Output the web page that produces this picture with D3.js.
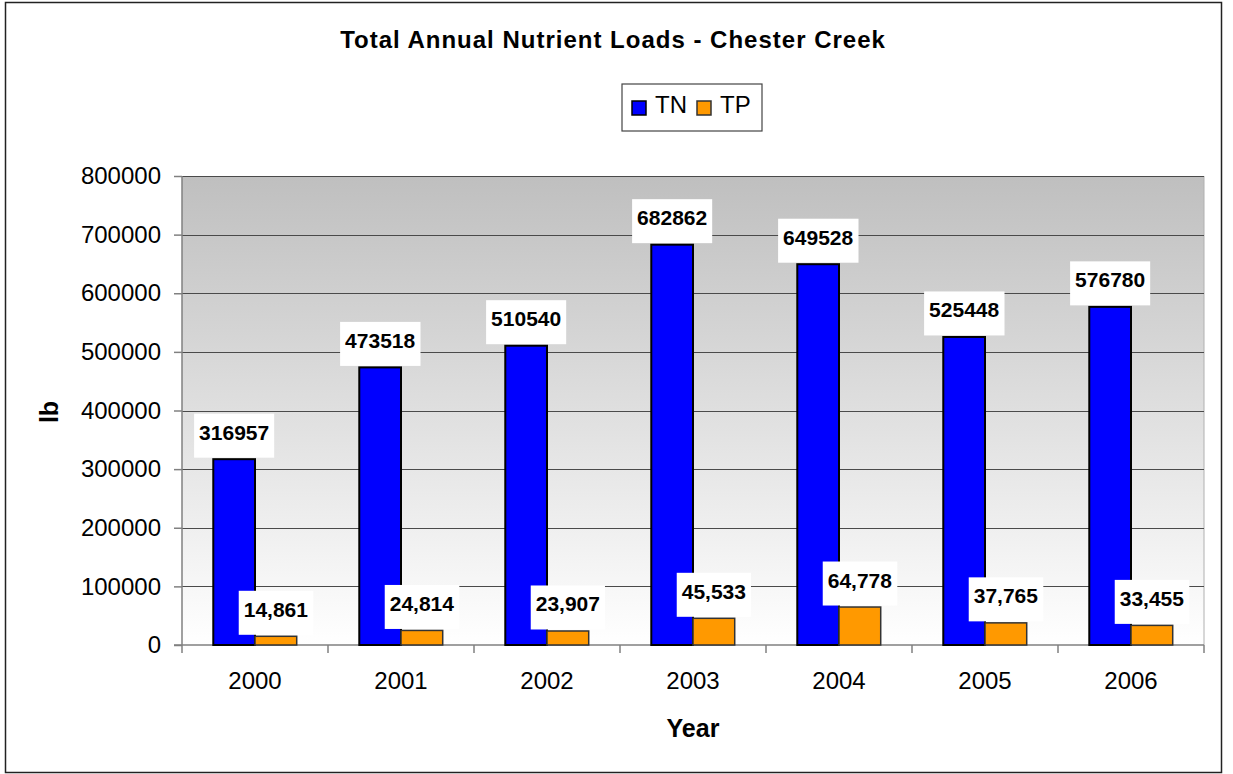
<!DOCTYPE html>
<html>
<head>
<meta charset="utf-8">
<script src="https://cdnjs.cloudflare.com/ajax/libs/d3/7.8.5/d3.min.js"></script>
<style>
  html, body { margin: 0; padding: 0; background: #ffffff; }
  svg { display: block; font-family: "Liberation Sans", Arial, sans-serif; }
</style>
</head>
<body>
<svg id="chart" width="1233" height="774"></svg>
<script>
const years = ["2000", "2001", "2002", "2003", "2004", "2005", "2006"];
const seriesNames = ["TN", "TP"];
const tnValues = [316957, 473518, 510540, 682862, 649528, 525448, 576780];
const tpValues = [14861, 24814, 23907, 45533, 64778, 37765, 33455];
const tnLabels = ["316957", "473518", "510540", "682862", "649528", "525448", "576780"];
const tpLabels = ["14,861", "24,814", "23,907", "45,533", "64,778", "37,765", "33,455"];
const yTicks = [0, 100000, 200000, 300000, 400000, 500000, 600000, 700000, 800000];
const seriesColors = ["#0000ff", "#ff9900"];

const svg = d3.select("#chart");
const W = 1233, H = 774;
const plot = { left: 182, right: 1204, top: 176, bottom: 645 };

// outer chart border
svg.append("rect")
  .attr("x", 5.5).attr("y", 2.5)
  .attr("width", 1216).attr("height", 770)
  .attr("fill", "#ffffff")
  .attr("stroke", "#222").attr("stroke-width", 1.5);

const x0 = d3.scaleBand().domain(years).range([plot.left, plot.right]).paddingInner(0).paddingOuter(0);
const innerPad = (x0.bandwidth() - 2 * (x0.bandwidth() / 3.5)) / 2;
const x1 = d3.scaleBand().domain(seriesNames)
  .range([innerPad, x0.bandwidth() - innerPad]).padding(0);
const y = d3.scaleLinear().domain([0, 800000]).range([plot.bottom, plot.top]);

// gradient plot background
const defs = svg.append("defs");
const grad = defs.append("linearGradient").attr("id", "bg").attr("x1", 0).attr("y1", 0).attr("x2", 0).attr("y2", 1);
grad.append("stop").attr("offset", "0%").attr("stop-color", "#bfbfbf");
grad.append("stop").attr("offset", "100%").attr("stop-color", "#ffffff");

svg.append("rect")
  .attr("x", plot.left).attr("y", plot.top)
  .attr("width", plot.right - plot.left).attr("height", plot.bottom - plot.top)
  .attr("fill", "url(#bg)");

// right border of plot
svg.append("line")
  .attr("x1", plot.right).attr("x2", plot.right)
  .attr("y1", plot.top).attr("y2", plot.bottom)
  .attr("stroke", "#b0b0b0").attr("stroke-width", 1);

// gridlines
svg.append("g").selectAll("line")
  .data(yTicks.filter(d => d > 0))
  .join("line")
  .attr("x1", plot.left).attr("x2", plot.right)
  .attr("y1", d => Math.round(y(d)) + 0.5).attr("y2", d => Math.round(y(d)) + 0.5)
  .attr("stroke", "#4a4a4a").attr("stroke-width", 1.2);

// y axis
const yAxis = d3.axisLeft(y).tickValues(yTicks).tickFormat(d3.format("d")).tickSize(8).tickPadding(13);
const gy = svg.append("g").attr("transform", `translate(${plot.left},0)`).call(yAxis);
gy.select(".domain").attr("stroke", "#808080").attr("stroke-width", 1.5).attr("d", `M0,${plot.top}V${plot.bottom}`);
gy.selectAll(".tick line").attr("stroke", "#808080").attr("stroke-width", 1.5);
gy.selectAll(".tick text").attr("font-size", 24).attr("fill", "#000")
  .attr("font-family", "Liberation Sans, Arial, sans-serif");

// x axis
const xAxis = d3.axisBottom(x0).tickSize(0).tickPadding(0);
const gx = svg.append("g").attr("transform", `translate(0,${plot.bottom})`).call(xAxis);
gx.select(".domain").attr("stroke", "#808080").attr("stroke-width", 1.5).attr("d", `M${plot.left - 8},0H${plot.right}`);
gx.selectAll(".tick text").attr("font-size", 24).attr("fill", "#000")
  .attr("font-family", "Liberation Sans, Arial, sans-serif")
  .attr("dy", null).attr("y", 44);
// category boundary ticks
const bounds = years.map(d => x0(d)).concat([x0(years[years.length - 1]) + x0.bandwidth()]);
gx.append("g").selectAll("line").data(bounds).join("line")
  .attr("x1", d => d).attr("x2", d => d)
  .attr("y1", 0).attr("y2", 8)
  .attr("stroke", "#808080").attr("stroke-width", 1.5);

// bars
const rows = years.map((yr, i) => ({ year: yr, vals: [tnValues[i], tpValues[i]], labels: [tnLabels[i], tpLabels[i]] }));
const groups = svg.append("g").selectAll("g").data(rows).join("g")
  .attr("transform", d => `translate(${x0(d.year)},0)`);

groups.selectAll("rect").data(d => d.vals.map((v, j) => ({ key: seriesNames[j], v, j })))
  .join("rect")
  .attr("x", d => x1(d.key))
  .attr("y", d => y(d.v))
  .attr("width", x1.bandwidth())
  .attr("height", d => y(0) - y(d.v))
  .attr("fill", d => seriesColors[d.j])
  .attr("stroke", d => d.j === 0 ? "#000" : "#333")
  .attr("stroke-width", d => d.j === 0 ? 2 : 1.5);

// data labels with white boxes
const labelLayer = svg.append("g");
rows.forEach(r => {
  r.vals.forEach((v, j) => {
    const cx = x0(r.year) + x1(seriesNames[j]) + x1.bandwidth() / 2;
    const top = y(v) - 1.5 - 44;
    const g = labelLayer.append("g");
    const rect = g.append("rect").attr("fill", "#ffffff");
    const t = g.append("text")
      .attr("x", cx).attr("y", top + 26)
      .attr("text-anchor", "middle")
      .attr("font-size", 21).attr("font-weight", "bold")
      .attr("fill", "#000")
      .text(r.labels[j]);
    const bb = t.node().getBBox();
    rect.attr("x", bb.x - 5).attr("y", top)
      .attr("width", bb.width + 10).attr("height", 44);
  });
});

// title
svg.append("text")
  .attr("x", 613).attr("y", 48)
  .attr("text-anchor", "middle")
  .attr("font-size", 24).attr("font-weight", "bold")
  .attr("letter-spacing", 1)
  .text("Total Annual Nutrient Loads - Chester Creek");

// legend
const lg = svg.append("g");
lg.append("rect").attr("x", 622).attr("y", 84).attr("width", 140).attr("height", 47)
  .attr("fill", "#fff").attr("stroke", "#444").attr("stroke-width", 1.2);
const legendX = [632, 697];
seriesNames.forEach((s, i) => {
  lg.append("rect").attr("x", legendX[i]).attr("y", 101).attr("width", 14).attr("height", 14)
    .attr("fill", seriesColors[i]).attr("stroke", i === 0 ? "#000" : "#333").attr("stroke-width", 1.5);
  lg.append("text").attr("x", legendX[i] + 23).attr("y", 113)
    .attr("font-size", 24).text(s);
});

// axis titles
svg.append("text")
  .attr("x", (plot.left + plot.right) / 2).attr("y", 737)
  .attr("text-anchor", "middle")
  .attr("font-size", 25).attr("font-weight", "bold")
  .text("Year");
svg.append("text")
  .attr("transform", "translate(58,412) rotate(-90)")
  .attr("text-anchor", "middle")
  .attr("font-size", 25).attr("font-weight", "bold")
  .text("lb");
</script>
</body>
</html>
